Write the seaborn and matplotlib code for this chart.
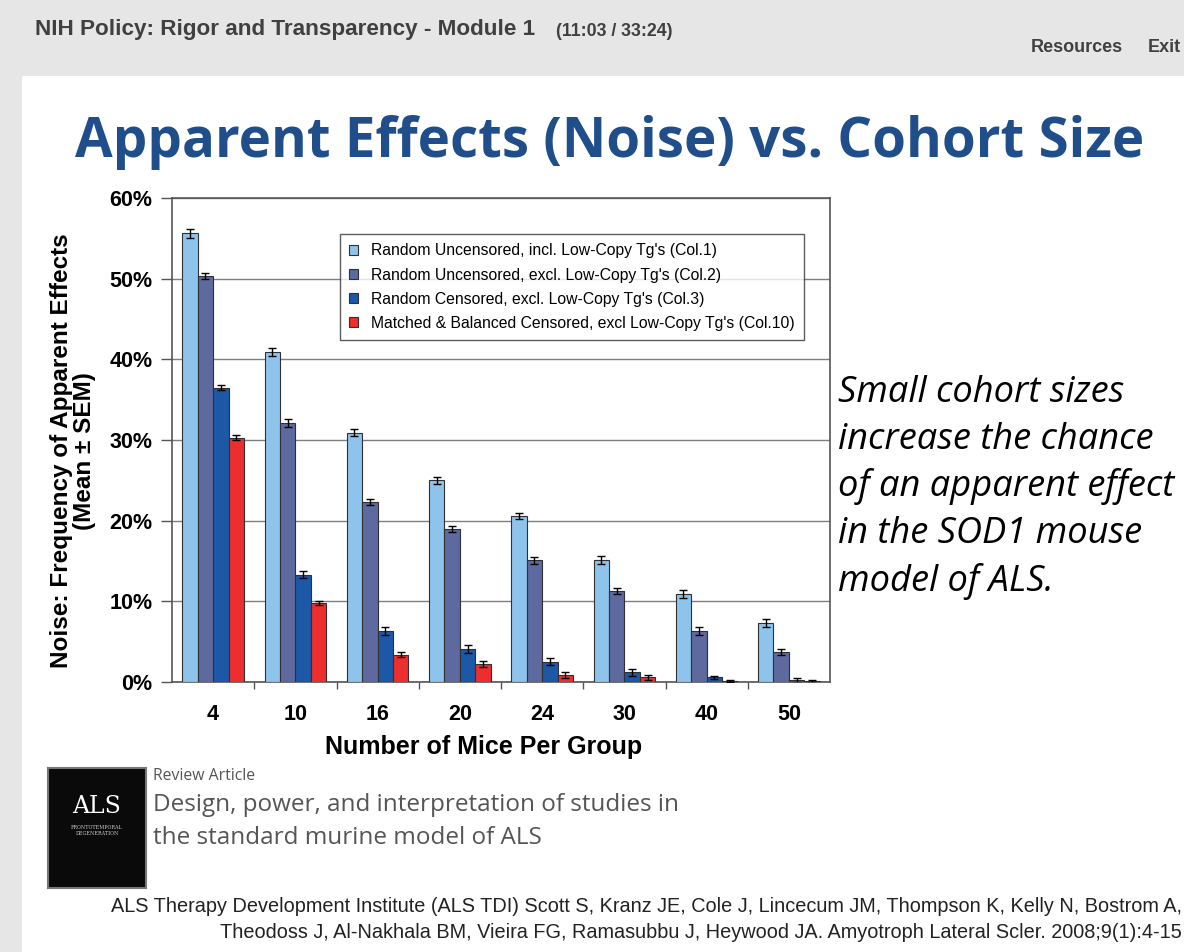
import matplotlib
matplotlib.use("Agg")
import matplotlib.pyplot as plt
import seaborn as sns
import pandas as pd
import numpy as np
from matplotlib.patches import Rectangle

# ---------------- data ----------------
groups = ["4", "10", "16", "20", "24", "30", "40", "50"]
series = [
    "Random Uncensored, incl. Low-Copy Tg's (Col.1)",
    "Random Uncensored, excl. Low-Copy Tg's (Col.2)",
    "Random Censored, excl. Low-Copy Tg's (Col.3)",
    "Matched & Balanced Censored, excl Low-Copy Tg's (Col.10)",
]
col1 = [55.6, 40.9, 30.9, 25.0, 20.6, 15.1, 10.9, 7.3]
col2 = [50.3, 32.1, 22.3, 19.0, 15.1, 11.3, 6.3, 3.7]
col3 = [36.5, 13.3, 6.3, 4.1, 2.5, 1.2, 0.6, 0.2]
col10 = [30.3, 9.8, 3.4, 2.2, 0.9, 0.6, 0.1, 0.1]
err1 = [0.5, 0.45, 0.45, 0.4, 0.4, 0.5, 0.5, 0.5]
err2 = [0.35, 0.45, 0.35, 0.4, 0.45, 0.4, 0.5, 0.4]
err3 = [0.35, 0.45, 0.5, 0.45, 0.45, 0.4, 0.2, 0.3]
err10 = [0.3, 0.3, 0.3, 0.4, 0.4, 0.3, 0.15, 0.2]
colors = ["#8EC4EC", "#5E6A9F", "#1D58A7", "#EC2E2E"]
yticks = [0, 10, 20, 30, 40, 50, 60]
ytick_labels = ["0%", "10%", "20%", "30%", "40%", "50%", "60%"]

values = [col1, col2, col3, col10]
errors = [err1, err2, err3, err10]
df = pd.DataFrame({
    "group": groups * 4,
    "series": [s for s in series for _ in groups],
    "value": sum(values, []),
})

# ---------------- figure ----------------
W, H = 1184, 952
fig = plt.figure(figsize=(W / 100, H / 100), dpi=100)
fig.patch.set_facecolor("white")

def px(x, y):
    return x / W, 1 - y / H

# header / frame background
fig.patches.append(Rectangle((0, 0), 1, 1, transform=fig.transFigure,
                             facecolor="#E6E6E6", edgecolor="none", zorder=-10))
fig.patches.append(Rectangle(px(22, 952), (W - 22) / W, (952 - 76) / H,
                             transform=fig.transFigure, facecolor="white",
                             edgecolor="none", zorder=-9))

sans = ["Liberation Sans", "DejaVu Sans"]
fig.text(*px(35, 30), "NIH Policy: Rigor and Transparency - Module 1", fontsize=16.2,
         fontweight="bold", color="#404040", va="center", ha="left", family=sans)
fig.text(*px(556, 31), "(11:03 / 33:24)", fontsize=12.8, fontweight="bold",
         color="#404040", va="center", ha="left", family=sans)
fig.text(*px(1031, 47), "Resources", fontsize=13, fontweight="bold",
         color="#404040", va="center", ha="left", family=sans)
fig.text(*px(1148, 48), "Exit", fontsize=13, fontweight="bold",
         color="#404040", va="center", ha="left", family=sans)

# slide title
fig.text(*px(610, 142), "Apparent Effects (Noise) vs. Cohort Size", fontsize=39.3,
         fontweight="bold", color="#1F4E8A", va="center", ha="center",
         family=["Open Sans", "DejaVu Sans"])

# right italic text
right_lines = ["Small cohort sizes", "increase the chance",
               "of an apparent effect", "in the SOD1 mouse", "model of ALS."]
for i, line in enumerate(right_lines):
    fig.text(*px(838, 393 + i * 47), line, fontsize=26.1, style="italic",
             color="black", va="center", ha="left",
             family=["Open Sans", "DejaVu Sans"])

# ---------------- chart ----------------
ax = fig.add_axes([172 / W, 1 - 682 / H, 658 / W, 484 / H])
sns.barplot(data=df, x="group", y="value", hue="series", order=groups,
            hue_order=series, palette=colors, saturation=1, errorbar=None,
            width=0.75, edgecolor="#303030", linewidth=0.8, ax=ax, zorder=3)

for cont, err in zip(ax.containers, errors):
    xs = [p.get_x() + p.get_width() / 2 for p in cont.patches]
    ys = [p.get_height() for p in cont.patches]
    ax.errorbar(xs, ys, yerr=err, fmt="none", ecolor="black", elinewidth=1,
                capsize=3, capthick=1, zorder=4)

ax.set_ylim(0, 60)
ax.set_xlim(-0.5, len(groups) - 0.5)
ax.set_yticks(yticks)
ax.set_yticklabels(ytick_labels, fontsize=15.5, fontweight="bold", family=sans)
ax.set_xticks(range(len(groups)))
ax.set_xticklabels(groups, fontsize=15.5, fontweight="bold", family=sans)
ax.tick_params(axis="x", length=0, pad=16)
ax.tick_params(axis="y", length=8, width=1, color="#555555", pad=6)
ax.set_xticks(np.arange(0.5, len(groups) - 0.5, 1), minor=True)
ax.tick_params(axis="x", which="minor", length=5, width=1, color="#555555")
ax.yaxis.grid(True, color="#7F7F7F", linewidth=1, zorder=0)
ax.set_axisbelow(True)
for sp in ax.spines.values():
    sp.set_color("#555555")
    sp.set_linewidth(1.2)

ax.set_xlabel("Number of Mice Per Group", fontsize=18, fontweight="bold",
              family=sans)
ax.xaxis.set_label_coords((484 - 172) / 658, (682 - 735) / 484)
ax.set_ylabel("Noise: Frequency of Apparent Effects\n(Mean ± SEM)", fontsize=17.5,
              fontweight="bold", family=sans, linespacing=1.0)
ax.yaxis.set_label_coords((96 - 172) / 658, (682 - 451) / 484)

leg = ax.legend(loc="upper left", bbox_to_anchor=((340 - 172) / 658, (682 - 234) / 484),
                borderaxespad=0, frameon=True, fancybox=False,
                edgecolor="#333333", handlelength=0.55, handleheight=0.55,
                handletextpad=0.8, labelspacing=0.58, borderpad=0.6,
                prop={"family": sans, "size": 11.3})
leg.get_frame().set_linewidth(1.0)
leg.set_zorder(5)

# ---------------- article reference ----------------
thumb = fig.add_axes([48 / W, 1 - 888 / H, 98 / W, 120 / H])
thumb.set_facecolor("#0A0A0A")
thumb.set_xticks([]); thumb.set_yticks([])
for sp in thumb.spines.values():
    sp.set_color("#777777")
    sp.set_linewidth(1.5)
thumb.text(0.5, 0.68, "ALS", color="white", fontsize=17, family="DejaVu Serif",
           ha="center", va="center", transform=thumb.transAxes)
thumb.text(0.5, 0.48, "FRONTOTEMPORAL\nDEGENERATION", color="#CCCCCC", fontsize=3.5,
           family="DejaVu Serif", ha="center", va="center", transform=thumb.transAxes)

fig.text(*px(153, 776), "Review Article", fontsize=11.3, color="#555555",
         va="center", ha="left", family=["Open Sans", "DejaVu Sans"])
fig.text(*px(153, 805), "Design, power, and interpretation of studies in",
         fontsize=17.5, color="#555555", va="center", ha="left",
         family=["Open Sans", "DejaVu Sans"])
fig.text(*px(153, 838), "the standard murine model of ALS",
         fontsize=17.5, color="#555555", va="center", ha="left",
         family=["Open Sans", "DejaVu Sans"])

fig.text(*px(1182, 907),
         "ALS Therapy Development Institute (ALS TDI) Scott S, Kranz JE, Cole J, Lincecum JM, Thompson K, Kelly N, Bostrom A,",
         fontsize=14.3, color="#222222", va="center", ha="right",
         family=["Liberation Sans Narrow", "Liberation Sans", "DejaVu Sans"])
fig.text(*px(1182, 933),
         "Theodoss J, Al-Nakhala BM, Vieira FG, Ramasubbu J, Heywood JA. Amyotroph Lateral Scler. 2008;9(1):4-15",
         fontsize=14.3, color="#222222", va="center", ha="right",
         family=["Liberation Sans Narrow", "Liberation Sans", "DejaVu Sans"])

fig.savefig("out.png", dpi=100)
